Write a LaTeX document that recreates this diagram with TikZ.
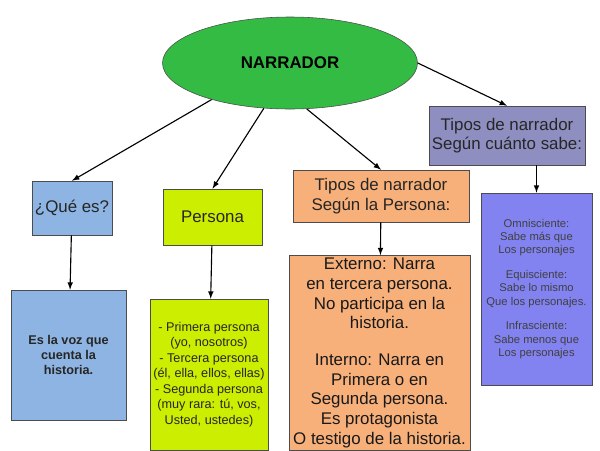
\documentclass[tikz,border=0pt]{standalone}
\usepackage{fontspec}
\setmainfont{Liberation Sans}
\usetikzlibrary{shapes.geometric}
\definecolor{verde}{HTML}{33BB44}
\definecolor{azul}{HTML}{8DB4E2}
\definecolor{lima}{HTML}{CCEE00}
\definecolor{naranja}{HTML}{F7B07A}
\definecolor{gris}{HTML}{8E8EC0}
\definecolor{lila}{HTML}{8282F0}
\tikzset{
  caja/.style={draw=black!70, inner sep=2pt, align=center, text=black!85},
  flecha/.style={-latex, thick}
}
\begin{document}
\begin{tikzpicture}[x=0.025cm,y=-0.025cm]
  \useasboundingbox (0,0) rectangle (600,450);
  \node (narrador) [ellipse, draw=black!70, fill=verde, minimum width=255*0.025cm, minimum height=92*0.025cm, font=\bfseries\large] at (290,63) {NARRADOR};

  \node (que) [caja, fill=azul, minimum width=78*0.025cm, minimum height=54*0.025cm, font=\large] at (72,208) {¿Qué es?};
  \node (persona) [caja, fill=lima, minimum width=99*0.025cm, minimum height=56*0.025cm, font=\large] at (212.5,217) {Persona};
  \node (tipos1) [caja, fill=naranja, minimum width=176*0.025cm, minimum height=52*0.025cm, font=\large] at (381,196) {Tipos de narrador\\Según la Persona:};
  \node (tipos2) [caja, fill=gris, minimum width=154*0.025cm, minimum height=59*0.025cm, font=\large] at (507,135.5) {Tipos de narrador\\Según cuánto sabe:};

  \node (voz) [caja, fill=azul, minimum width=115*0.025cm, minimum height=130*0.025cm, font=\small\bfseries] at (68.5,355) {Es la voz que\\cuenta la\\historia.};
  \node (lista) [caja, fill=lima, minimum width=118*0.025cm, minimum height=151*0.025cm, font=\small] at (209,374.5) {- Primera persona\\(yo, nosotros)\\- Tercera persona\\(él, ella, ellos, ellas)\\- Segunda persona\\(muy rara: tú, vos,\\Usted, ustedes)};
  \node (externo) [caja, fill=naranja, minimum width=181*0.025cm, minimum height=194*0.025cm, font=\large, text=black!90] at (379.5,353) {Externo: Narra\\en tercera persona.\\No participa en la\\historia.\\[1em]Interno: Narra en\\Primera o en\\Segunda persona.\\Es protagonista\\O testigo de la historia.};
  \node (saber) [caja, fill=lila, minimum width=111*0.025cm, minimum height=192*0.025cm, font=\footnotesize, text=black!75] at (536.5,289) {Omnisciente:\\Sabe más que\\Los personajes\\[1em]Equisciente:\\Sabe lo mismo\\Que los personajes.\\[1em]Infrasciente:\\Sabe menos que\\Los personajes};

  \draw[flecha] (narrador.205) -- (que.north);
  \draw[flecha] (narrador.240) -- (persona.north);
  \draw[flecha] (narrador.290) -- (tipos1.north);
  \draw[flecha] (narrador.east) -- (tipos2.north);
  \draw[flecha] (que) -- (voz);
  \draw[flecha] (persona) -- (lista);
  \draw[flecha] (tipos1) -- (externo);
  \draw[flecha] (tipos2.south -| saber) -- (saber);
\end{tikzpicture}
\end{document}
